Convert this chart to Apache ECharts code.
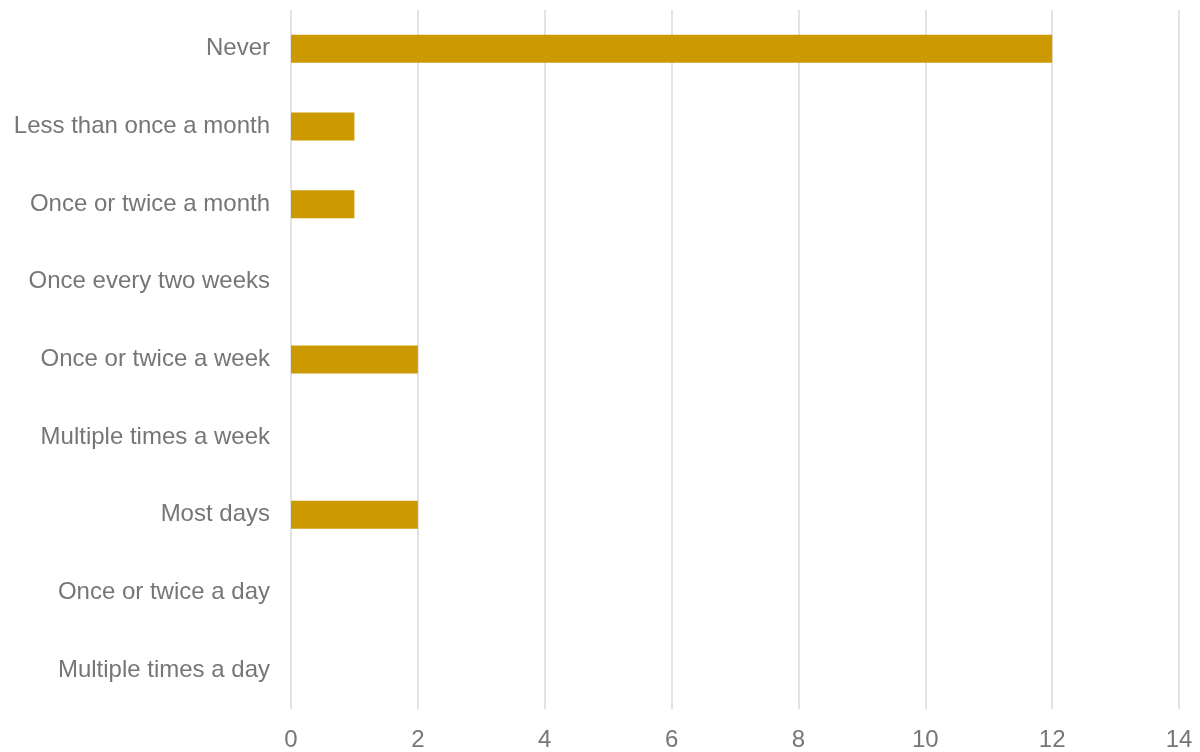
<!DOCTYPE html>
<html>
<head>
<meta charset="utf-8">
<script src="https://cdn.jsdelivr.net/npm/echarts@6/dist/echarts.min.js"></script>
<style>
  html, body { margin: 0; padding: 0; background: #fff; }
  #chart { width: 1200px; height: 752px; }
</style>
</head>
<body>
<div id="chart"></div>
<script>
// Response frequency categories, listed top to bottom
const categories = [
  'Never',
  'Less than once a month',
  'Once or twice a month',
  'Once every two weeks',
  'Once or twice a week',
  'Multiple times a week',
  'Most days',
  'Once or twice a day',
  'Multiple times a day'
];
// Number of respondents per category
const counts = [12, 1, 1, 0, 2, 0, 2, 0, 0];

const chart = echarts.init(document.getElementById('chart'), null, { renderer: 'canvas' });
const font = '"Liberation Sans", Arial, sans-serif';

chart.setOption({
  animation: false,
  grid: { left: 291, right: 21, top: 10, bottom: 42, containLabel: false },
  xAxis: {
    type: 'value',
    min: 0,
    max: 14,
    interval: 2,
    axisLine: { show: false },
    axisTick: { show: false },
    axisLabel: { color: '#767676', fontSize: 24, fontFamily: font, margin: 19 },
    splitLine: { show: true, lineStyle: { color: '#d9d9d9', width: 1.5 } }
  },
  yAxis: {
    type: 'category',
    data: categories,
    inverse: true,
    axisLine: { show: false },
    axisTick: { show: false },
    axisLabel: { color: '#767676', fontSize: 24, fontFamily: font, margin: 21, padding: [0, 0, 3, 0] }
  },
  series: [{
    type: 'bar',
    data: counts,
    barWidth: 28,
    itemStyle: { color: '#cc9a00' }
  }]
});
</script>
</body>
</html>
